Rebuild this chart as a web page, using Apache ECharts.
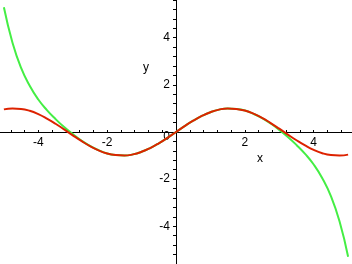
<!DOCTYPE html>
<html>
<head>
<meta charset="utf-8">
<script src="https://cdn.jsdelivr.net/npm/echarts@6/dist/echarts.min.js"></script>
<style>html,body{margin:0;padding:0;background:#fff}#c{width:352px;height:264px}</style>
</head>
<body>
<div id="c"></div>
<script>
var xs = [-5,-4.75,-4.5,-4.25,-4,-3.75,-3.5,-3.25,-3,-2.75,-2.5,-2.25,-2,-1.75,-1.5,-1.25,-1,-0.75,-0.5,-0.25,0,0.25,0.5,0.75,1,1.25,1.5,1.75,2,2.25,2.5,2.75,3,3.25,3.5,3.75,4,4.25,4.5,4.75,5];
var redY = [0.96,1.00,0.98,0.90,0.76,0.57,0.35,0.11,-0.14,-0.38,-0.60,-0.78,-0.91,-0.98,-1.00,-0.95,-0.84,-0.68,-0.48,-0.25,0,0.25,0.48,0.68,0.84,0.95,1.00,0.98,0.91,0.78,0.60,0.38,0.14,-0.11,-0.35,-0.57,-0.76,-0.90,-0.98,-1.00,-0.96];
var greenY = [5.29,3.79,2.72,1.96,1.38,0.93,0.55,0.21,-0.09,-0.36,-0.59,-0.77,-0.91,-0.98,-1.00,-0.95,-0.84,-0.68,-0.48,-0.25,0,0.25,0.48,0.68,0.84,0.95,1.00,0.98,0.91,0.77,0.59,0.36,0.09,-0.21,-0.55,-0.93,-1.38,-1.96,-2.72,-3.79,-5.29];
var labelTicks = [-4,-2,0,2,4];
var axisNames = ['x','y'];

function pairs(ys){ return xs.map(function(x,i){ return [x, ys[i]]; }); }
function fmt(skipZero){
  return function(v){
    var r = Math.round(v);
    if (Math.abs(r - v) > 1e-6) return '';
    if (skipZero && r === 0) return '';
    if (r === 0) return '{z|0}';
    return labelTicks.indexOf(r) >= 0 ? String(r) : '';
  };
}
var chart = echarts.init(document.getElementById('c'));
var lab = {fontFamily:'Liberation Sans, Arial, sans-serif', fontSize:12, color:'#000'};
var xBase = {type:'value',min:-5.2,max:5.2,interval:0.4,splitLine:{show:false}};
var yBase = {type:'value',min:-5.6,max:5.6,interval:0.4,splitLine:{show:false}};
chart.setOption({
  animation:false,
  grid:{left:-3,right:-3,top:0,bottom:0,containLabel:false,outerBoundsMode:'none'},
  xAxis:[
    Object.assign({}, xBase, {
      axisLine:{onZero:true,lineStyle:{color:'#000',width:1}},
      axisTick:{show:true,inside:true,length:2,lineStyle:{color:'#000'}},
      axisLabel:{show:false}}),
    Object.assign({}, xBase, {position:'bottom',offset:-132,
      axisLine:{show:false,onZero:false},axisTick:{show:false},
      axisLabel:Object.assign({formatter:fmt(true),margin:5,showMinLabel:false,showMaxLabel:false},lab)})
  ],
  yAxis:[
    Object.assign({}, yBase, {
      axisLine:{onZero:true,lineStyle:{color:'#000',width:1}},
      axisTick:{show:true,length:3,lineStyle:{color:'#000'}},
      axisLabel:{show:false}}),
    Object.assign({}, yBase, {position:'left',offset:-179,
      axisLine:{show:false,onZero:false},axisTick:{show:false},
      axisLabel:Object.assign({formatter:fmt(false),margin:6,showMinLabel:false,showMaxLabel:false,
        rich:{z:Object.assign({padding:[9,0,0,0]},lab)}},lab)})
  ],
  graphic:[
    {type:'text',left:257,top:153,style:{text:axisNames[0],font:'12px Liberation Sans, Arial, sans-serif',fill:'#000'}},
    {type:'text',left:143,top:62,style:{text:axisNames[1],font:'12px Liberation Sans, Arial, sans-serif',fill:'#000'}}
  ],
  series:[
    {type:'line',data:pairs(greenY),smooth:true,showSymbol:false,lineStyle:{color:'#44ee44',width:2},z:2},
    {type:'line',data:pairs(redY),smooth:true,showSymbol:false,lineStyle:{color:'#dd2200',width:2},z:3}
  ]
});
</script>
</body>
</html>
